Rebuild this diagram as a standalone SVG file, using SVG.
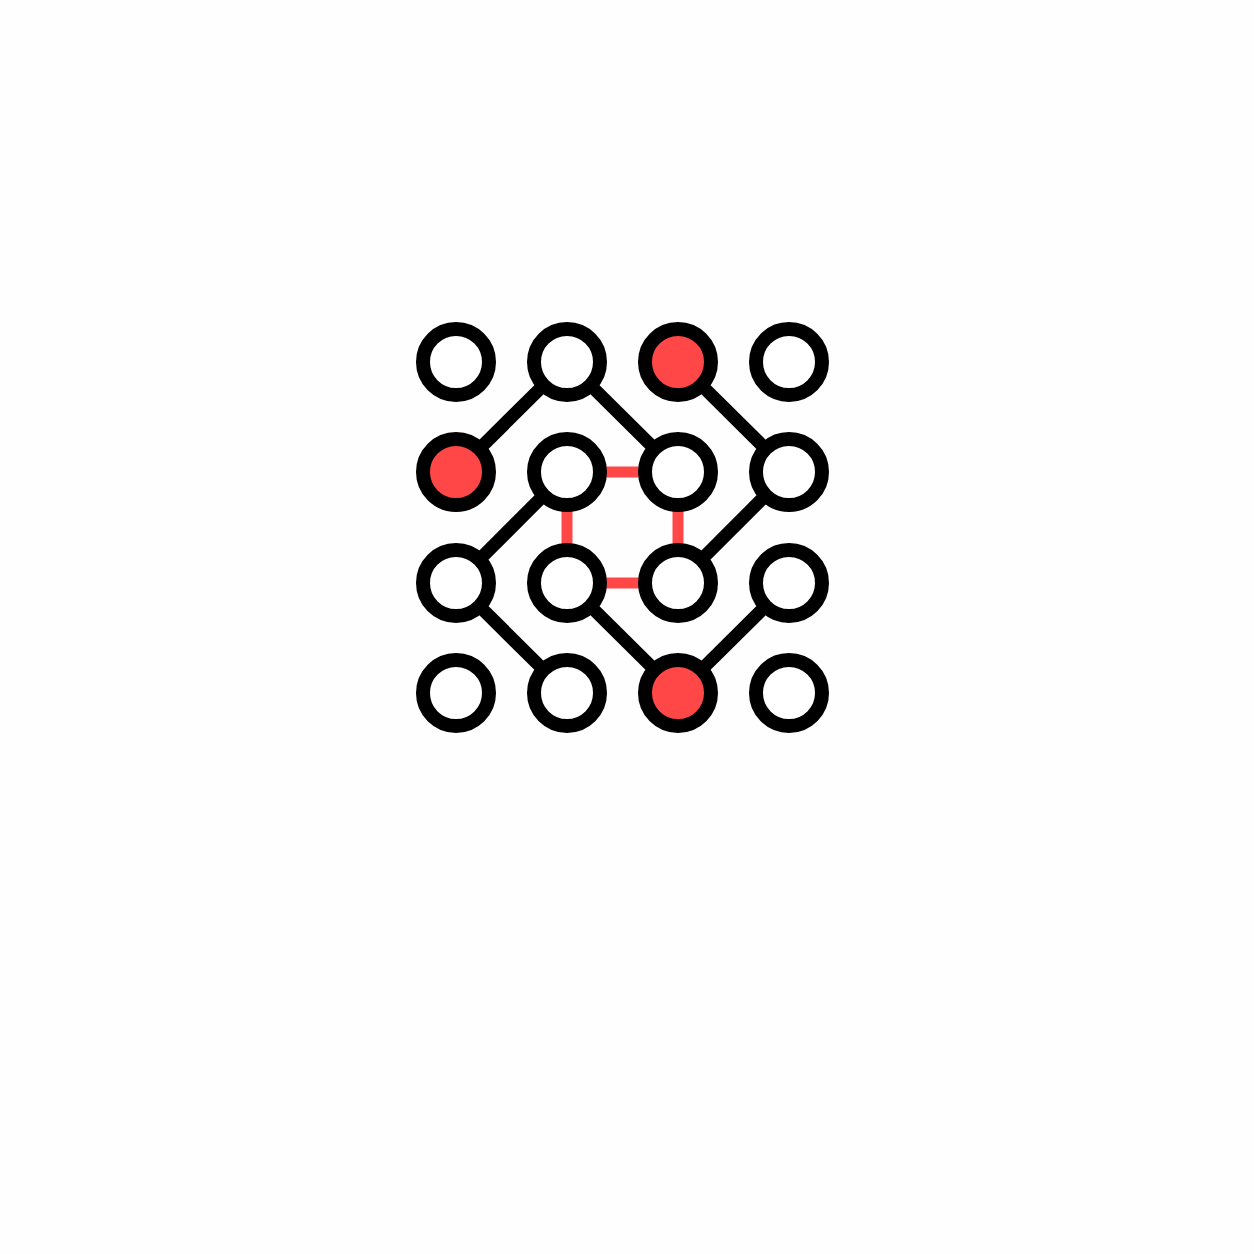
<svg xmlns="http://www.w3.org/2000/svg" width="1254" height="1254" viewBox="0 0 1254 1254">
<style>
.n{fill:#fff;stroke:#000;stroke-width:14}
.h{fill:#ff4747}
.e{stroke:#000;stroke-width:13;stroke-linecap:butt}
.r{stroke:#ff4747;stroke-width:11}
</style>
<rect width="1254" height="1254" fill="#fefefe"/>
<g id="connectors">
<line class="e" x1="567" y1="362" x2="456" y2="472"/>
<line class="e" x1="567" y1="362" x2="678" y2="472"/>
<line class="e" x1="678" y1="362" x2="789" y2="472"/>
<line class="e" x1="567" y1="472" x2="456" y2="583"/>
<line class="e" x1="789" y1="472" x2="678" y2="583"/>
<line class="e" x1="456" y1="583" x2="567" y2="693"/>
<line class="e" x1="567" y1="583" x2="678" y2="693"/>
<line class="e" x1="789" y1="583" x2="678" y2="693"/>
<line class="r" x1="567" y1="472" x2="678" y2="472"/>
<line class="r" x1="678" y1="472" x2="678" y2="583"/>
<line class="r" x1="678" y1="583" x2="567" y2="583"/>
<line class="r" x1="567" y1="583" x2="567" y2="472"/>
</g>
<g id="n00"><circle class="n" cx="456" cy="362" r="33"/></g>
<g id="n01"><circle class="n" cx="567" cy="362" r="33"/></g>
<g id="n02"><circle class="n h" cx="678" cy="362" r="33"/></g>
<g id="n03"><circle class="n" cx="789" cy="362" r="33"/></g>
<g id="n10"><circle class="n h" cx="456" cy="472" r="33"/></g>
<g id="n11"><circle class="n" cx="567" cy="472" r="33"/></g>
<g id="n12"><circle class="n" cx="678" cy="472" r="33"/></g>
<g id="n13"><circle class="n" cx="789" cy="472" r="33"/></g>
<g id="n20"><circle class="n" cx="456" cy="583" r="33"/></g>
<g id="n21"><circle class="n" cx="567" cy="583" r="33"/></g>
<g id="n22"><circle class="n" cx="678" cy="583" r="33"/></g>
<g id="n23"><circle class="n" cx="789" cy="583" r="33"/></g>
<g id="n30"><circle class="n" cx="456" cy="693" r="33"/></g>
<g id="n31"><circle class="n" cx="567" cy="693" r="33"/></g>
<g id="n32"><circle class="n h" cx="678" cy="693" r="33"/></g>
<g id="n33"><circle class="n" cx="789" cy="693" r="33"/></g>
</svg>
